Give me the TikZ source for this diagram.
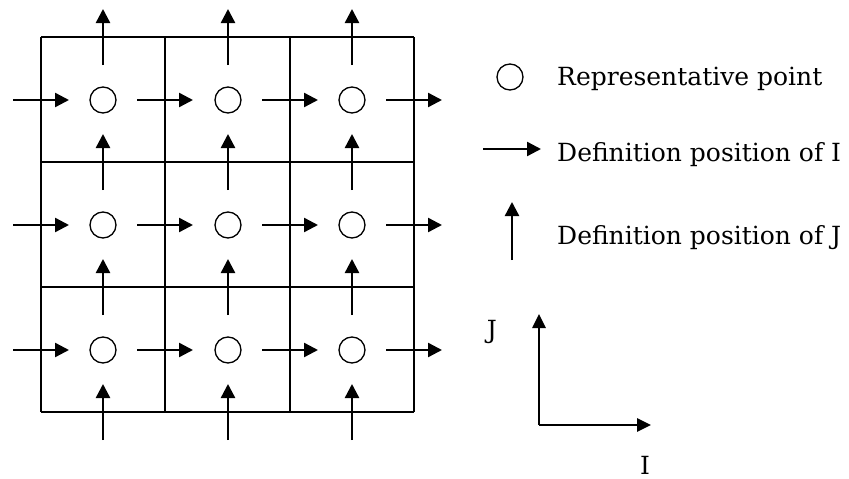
\documentclass[tikz,border=0pt]{standalone}
\usepackage{fontspec}
\setmainfont{DejaVu Serif}
\usetikzlibrary{arrows.meta}
\begin{document}
\begin{tikzpicture}[x=1pt,y=-1pt,
  gridline/.style={line width=1.2pt},
  arr/.style={line width=2.4pt,-{Triangle[length=14pt,width=14pt]}},
  axis/.style={line width=2.6pt,-{Triangle[length=14pt,width=13pt]}},
  rep/.style={circle,draw,line width=1.3pt,minimum size=26pt,inner sep=0pt},
  lbl/.style={font=\fontsize{25}{28}\selectfont,anchor=base west,inner sep=0pt}]
\useasboundingbox (0,0) rectangle (849,479);
% grid
\foreach \x in {41,165,290,414}{ \draw[gridline] (\x,37) -- (\x,412); }
\foreach \y in {37,162,287,412}{ \draw[gridline] (41,\y) -- (414,\y); }
% representative points
\foreach \r/\y in {1/100,2/225,3/350}{
  \foreach \c/\x in {1/103,2/228,3/352}{
    \node[rep] (p\r\c) at (\x,\y) {};
  }
}
% horizontal (I) arrows across faces
\foreach \r/\y in {1/100,2/225,3/350}{
  \foreach \k/\f in {0/41,1/165,2/290,3/414}{
    \coordinate (hs\r\k) at ({\f-28},\y);
    \coordinate (he\r\k) at ({\f+28},\y);
    \draw[arr] (hs\r\k) -- (he\r\k);
  }
}
% vertical (J) arrows across faces
\foreach \c/\x in {1/103,2/228,3/352}{
  \foreach \k/\f in {0/37,1/162,2/287,3/412}{
    \coordinate (vs\c\k) at (\x,{\f+28});
    \coordinate (ve\c\k) at (\x,{\f-28});
    \draw[arr] (vs\c\k) -- (ve\c\k);
  }
}
% legend
\node[rep] (legc) at (510,77) {};
\node[lbl] (legrep) at (557,85) {Representative point};
\coordinate (lia) at (483,149);
\coordinate (lib) at (541,149);
\draw[arr] (lia) -- (lib);
\node[lbl] (legi) at (557,161) {Definition position of I};
\coordinate (lja) at (512,260);
\coordinate (ljb) at (512,202);
\draw[arr] (lja) -- (ljb);
\node[lbl] (legj) at (557,244) {Definition position of J};
% axes
\coordinate (o) at (539,425);
\coordinate (jend) at (539,314);
\coordinate (iend) at (651,425);
\draw[axis] (o) -- (jend);
\draw[axis] (o) -- (iend);
\node[font=\fontsize{25}{28}\selectfont,anchor=base,inner sep=0pt] (jl) at (492,338) {J};
\node[font=\fontsize{25}{28}\selectfont,anchor=base,inner sep=0pt] (il) at (645,474) {I};
\end{tikzpicture}
\end{document}
